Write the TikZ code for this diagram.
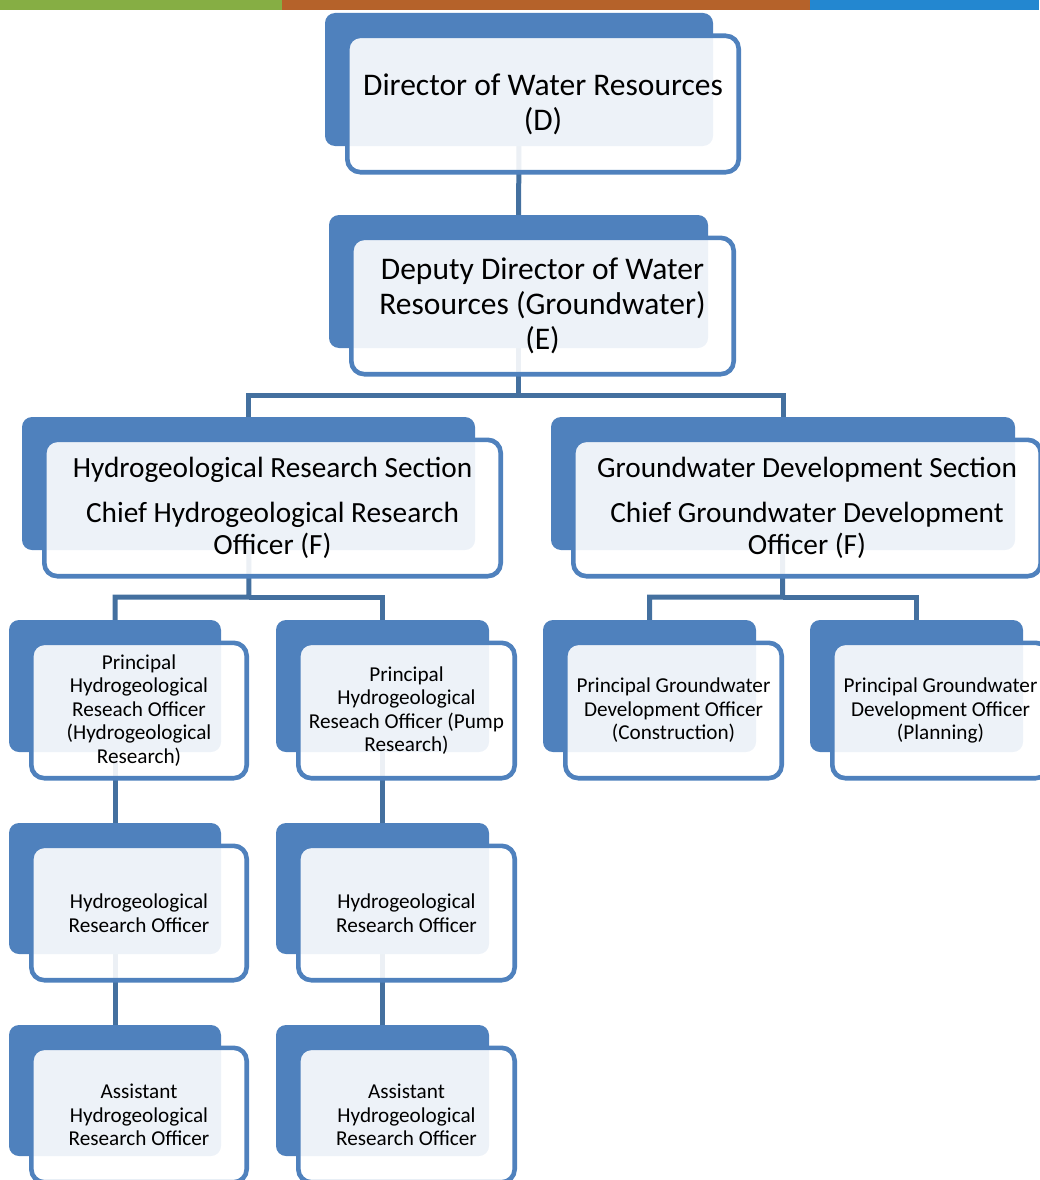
\documentclass[tikz,border=0pt]{standalone}
\usepackage{fontspec}
\setmainfont{Carlito}
\usetikzlibrary{calc}
\definecolor{accent}{HTML}{4F81BD}
\definecolor{connc}{HTML}{44709F}
\definecolor{barG}{HTML}{86AE44}
\definecolor{barO}{HTML}{B5622A}
\definecolor{barB}{HTML}{2387D0}
\pgfdeclarelayer{bg}
\pgfsetlayers{bg,main}
\tikzset{
 backbox/.style={fill=accent, draw=none, rounded corners=10pt, inner sep=0pt, outer sep=0pt},
 frontbox/.style={draw=accent, line width=4.6pt, fill=white, fill opacity=0.9, text opacity=1, rounded corners=13pt, inner sep=0pt, outer sep=0pt, align=center, text=black},
 conn/.style={draw=connc, line width=5pt},
 bigtxt/.style={font=\fontsize{31.5}{35}\selectfont},
 sectxt/.style={font=\fontsize{29.3}{32}\selectfont},
 smalltxt/.style={font=\fontsize{21.2}{23.5}\selectfont},
}
% #1 name, #2 x1, #3 y1, #4 x2, #5 y2 (outer edges of front box), #6 text style, #7 text
\newcommand\orgbox[7]{%
 \pgfmathsetmacro\bw{#4-#2-4.6}\pgfmathsetmacro\bh{#5-#3-4.6}%
 \pgfmathsetmacro\bcx{(#2+#4)/2}\pgfmathsetmacro\bcy{(#3+#5)/2}%
 \pgfmathsetmacro\aw{#4-#2-8}\pgfmathsetmacro\ah{#5-#3-8}%
 \pgfmathsetmacro\acx{(#2+#4)/2-24}\pgfmathsetmacro\acy{(#3+#5)/2-23}%
 \node[backbox, minimum width=\aw pt, minimum height=\ah pt] (#1A) at (\acx,\acy) {};
 \node[frontbox, #6, minimum width=\bw pt, minimum height=\bh pt] (#1) at (\bcx,\bcy+1.5) {#7};
}
\begin{document}
\begin{tikzpicture}[x=1pt,y=-1pt]
\useasboundingbox (0,0) rectangle (1039,1180);
% top colour bar
\fill[barG] (0,0) rectangle (282,10);
\fill[barO] (282,0) rectangle (810,10);
\fill[barB] (810,0) rectangle (1039,10);

\orgbox{D}{345}{32}{741}{173}{bigtxt}{Director of Water Resources\\(D)}
\orgbox{E}{349}{234}{736}{375}{bigtxt}{Deputy Director of Water\\Resources (Groundwater)\\(E)}
\orgbox{HRS}{42}{436}{503}{577}{sectxt}{Hydrogeological Research Section\\[13pt]Chief Hydrogeological Research\\Officer (F)}
\orgbox{GDS}{571}{436}{1043}{577}{sectxt}{Groundwater Development Section\\[13pt]Chief Groundwater Development\\Officer (F)}
\orgbox{PHRa}{29}{639}{249}{779}{smalltxt}{Principal\\Hydrogeological\\Reseach Officer\\(Hydrogeological\\Research)}
\orgbox{PHRb}{296}{639}{517}{779}{smalltxt}{Principal\\Hydrogeological\\Reseach Officer (Pump\\Research)}
\orgbox{PGDa}{563}{639}{784}{779}{smalltxt}{Principal Groundwater\\Development Officer\\(Construction)}
\orgbox{PGDb}{830}{639}{1051}{779}{smalltxt}{Principal Groundwater\\Development Officer\\(Planning)}
\orgbox{HROa}{29}{842}{249}{981}{smalltxt}{Hydrogeological\\Research Officer}
\orgbox{HROb}{296}{842}{517}{981}{smalltxt}{Hydrogeological\\Research Officer}
\orgbox{AHRa}{29}{1044}{249}{1183}{smalltxt}{Assistant\\Hydrogeological\\Research Officer}
\orgbox{AHRb}{296}{1044}{517}{1183}{smalltxt}{Assistant\\Hydrogeological\\Research Officer}

\coordinate (jE) at (518.5,395);
\coordinate (jH) at (249,597);
\coordinate (jG) at (782.5,597);

\begin{pgfonlayer}{bg}
\draw[conn] (DA.center) -- (EA.center);
\draw[conn] (EA.center) -- (jE) -| (HRSA.center);
\draw[conn] (jE) -| (GDSA.center);
\draw[conn] (HRSA.center) -- (jH) -| (PHRaA.center);
\draw[conn] (jH) -| (PHRbA.center);
\draw[conn] (GDSA.center) -- (jG) -| (PGDaA.center);
\draw[conn] (jG) -| (PGDbA.center);
\draw[conn] (PHRaA.center) -- (HROaA.center) -- (AHRaA.center);
\draw[conn] (PHRbA.center) -- (HRObA.center) -- (AHRbA.center);
\end{pgfonlayer}
\end{tikzpicture}
\end{document}
